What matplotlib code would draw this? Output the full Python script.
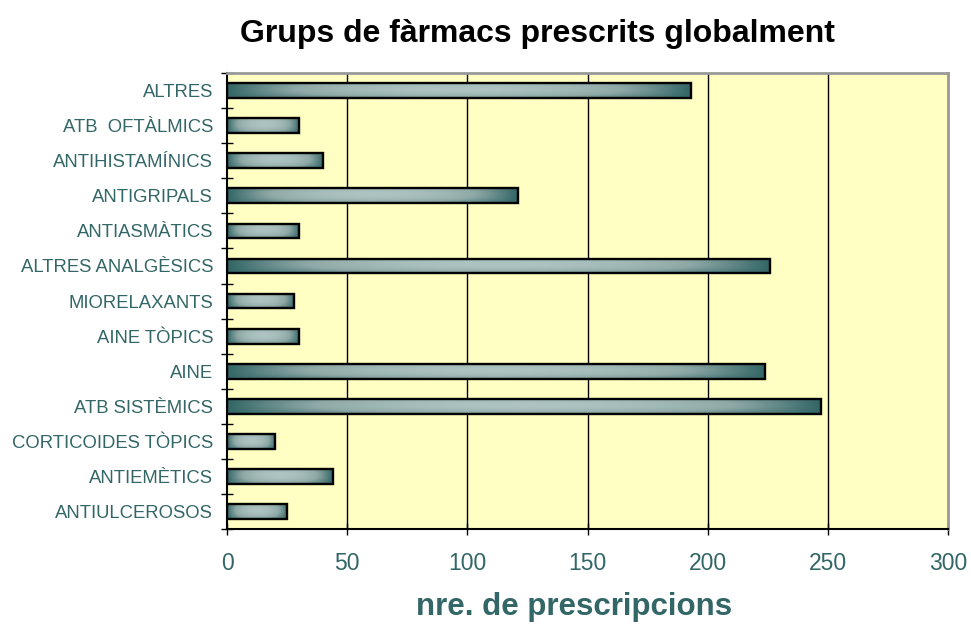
import numpy as np
import matplotlib
matplotlib.use('Agg')
import matplotlib.pyplot as plt
from matplotlib.colors import LinearSegmentedColormap

plt.rcParams['font.family'] = ['Liberation Sans', 'DejaVu Sans']

# Dades (de baix a dalt)
categories = ['ANTIULCEROSOS', 'ANTIEMÈTICS', 'CORTICOIDES TÒPICS', 'ATB SISTÈMICS',
              'AINE', 'AINE TÒPICS', 'MIORELAXANTS', 'ALTRES ANALGÈSICS',
              'ANTIASMÀTICS', 'ANTIGRIPALS', 'ANTIHISTAMÍNICS', 'ATB  OFTÀLMICS', 'ALTRES']
valors = [25, 44, 20, 247, 224, 30, 28, 226, 30, 121, 40, 30, 193]
xticks = [0, 50, 100, 150, 200, 250, 300]

teal = '#336666'
cmap = LinearSegmentedColormap.from_list('cil', ['#aec4c2', '#8fa9a7', '#336666'])

fig = plt.figure(figsize=(9.71, 6.24), dpi=100)
ax = fig.add_axes([0.2338, 0.152, 0.7425, 0.731])
ax.set_facecolor('#ffffc4')

y = np.arange(len(categories))
bars = ax.barh(y, valors, height=0.42, facecolor='none', edgecolor='black',
               linewidth=1.7, zorder=4)

# degradat de cada barra (fosc als extrems, clar al centre)
u = np.linspace(-1, 1, 200)
v = np.linspace(-1, 1, 40)
U, V = np.meshgrid(u, v)
grad = 1 - (1 - np.abs(U) ** 2.0) * (1 - 0.45 * np.abs(V + 0.2) ** 2)
for b in bars:
    x0, y0 = b.get_x(), b.get_y()
    w, h = b.get_width(), b.get_height()
    im = ax.imshow(grad, extent=[x0, x0 + w, y0, y0 + h], cmap=cmap,
                   vmin=0, vmax=1, aspect='auto', interpolation='bilinear', zorder=3)
    im.set_clip_path(b)

ax.set_xlim(0, 300)
ax.set_ylim(-0.5, len(categories) - 0.5)
ax.set_aspect('auto')

ax.set_xticks(xticks)
ax.set_xticklabels([str(t) for t in xticks], fontsize=16.5, color=teal)
ax.tick_params(axis='x', direction='inout', length=9, width=1, pad=12)

ax.set_yticks(y)
ax.set_yticklabels(categories, fontsize=13.3, color=teal)
ax.set_yticks(np.arange(-0.5, len(categories), 1), minor=True)
ax.tick_params(axis='y', which='major', length=0, pad=10)
ax.tick_params(axis='y', which='minor', direction='inout', length=8.5, width=1)

for t in xticks[1:-1]:
    ax.axvline(t, color='black', linewidth=1, zorder=1)

for s in ['left', 'bottom']:
    ax.spines[s].set_color('black')
    ax.spines[s].set_linewidth(1.5)
for s in ['top', 'right']:
    ax.spines[s].set_color('#999999')
    ax.spines[s].set_linewidth(2)

fig.text(0.553, 0.945, 'Grups de fàrmacs prescrits globalment', ha='center', va='center',
         fontsize=23, fontweight='bold', color='black')
fig.text(0.591, 0.027, 'nre. de prescripcions', ha='center', va='center',
         fontsize=22.5, fontweight='bold', color=teal)

fig.savefig('out.png', dpi=100)
